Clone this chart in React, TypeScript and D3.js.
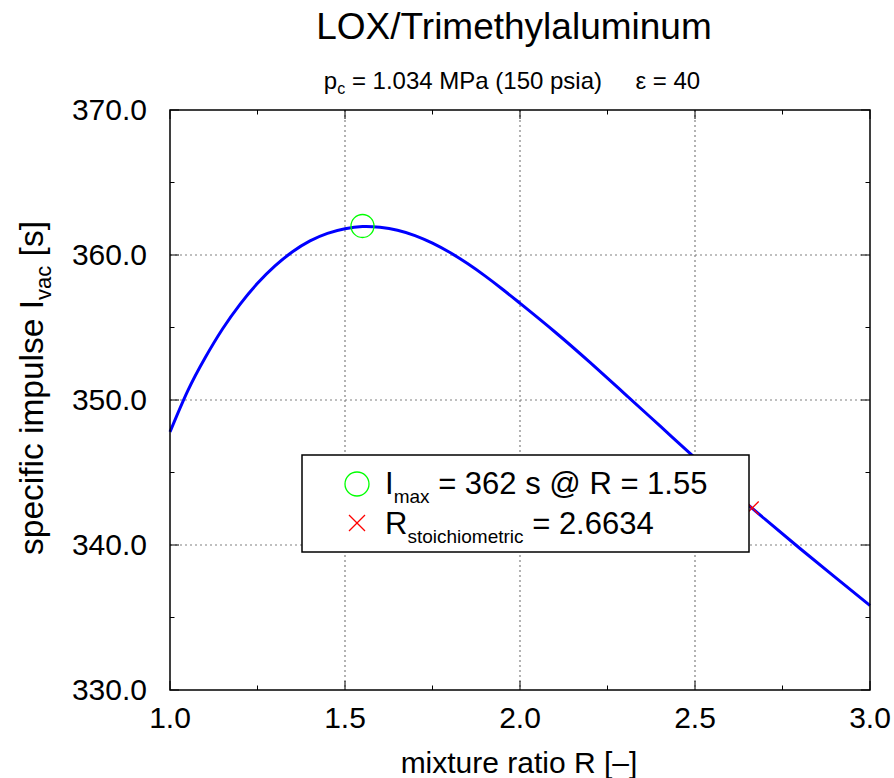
import React from "react";
import * as d3 from "d3";

const ratioR = [1.0, 1.05, 1.1, 1.15, 1.2, 1.25, 1.3, 1.35, 1.4, 1.45, 1.5, 1.55, 1.6, 1.65, 1.7, 1.75, 1.8, 1.85, 1.9, 1.95, 2.0, 2.1, 2.2, 2.3, 2.4, 2.5, 2.6, 2.7, 2.8, 2.9, 3.0];
const ispVac = [347.8, 350.6, 352.9, 354.9, 356.6, 358.05, 359.25, 360.22, 360.97, 361.49, 361.81, 361.96, 361.91, 361.71, 361.34, 360.82, 360.17, 359.41, 358.56, 357.64, 356.67, 354.69, 352.59, 350.41, 348.21, 346.01, 343.86, 341.78, 339.76, 337.78, 335.83];
const xTicks = [1.0, 1.5, 2.0, 2.5, 3.0];
const xMinor = [1.25, 1.75, 2.25, 2.75];
const yTicks = [330, 340, 350, 360, 370];
const yMinor = [335, 345, 355, 365];
const maxPoint = { r: 1.55, isp: 362 };
const stoich = { r: 2.6634, isp: 342.55 };

const FONT = "'Liberation Sans', Arial, Helvetica, sans-serif";

export default function App() {
  const W = 894, H = 778;
  const left = 170, right = 870, top = 110, bottom = 690;
  const x = d3.scaleLinear().domain([1, 3]).range([left, right]);
  const y = d3.scaleLinear().domain([330, 370]).range([bottom, top]);
  const line = d3.line<number>().x((_, i) => x(ratioR[i])).y((d) => y(d)).curve(d3.curveNatural);
  const pathD = line(ispVac) || "";
  const grid = "#808080";
  const cx = x(stoich.r), cy = y(stoich.isp);
  const xs = 6.5;
  const lgX = 357, lg1 = 484, lg2 = 523;
  return (
    <svg width={W} height={H} style={{ position: "absolute", left: 0, top: 0, background: "#fff" }} fontFamily={FONT}>
      <rect x={0} y={0} width={W} height={H} fill="#fff" />
      <text x={514} y={39} fontSize={37} textAnchor="middle">LOX/Trimethylaluminum</text>
      <text x={512} y={89} fontSize={24} textAnchor="middle" style={{ whiteSpace: "pre" }} xmlSpace="preserve">
        p<tspan fontSize={16} dy={5}>c</tspan><tspan dy={-5}>{" = 1.034 MPa (150 psia)     \u03b5 = 40"}</tspan>
      </text>
      {/* grid */}
      {xTicks.slice(1, -1).map((t) => (
        <line key={"gx" + t} x1={x(t)} x2={x(t)} y1={top} y2={bottom} stroke={grid} strokeWidth={1.2} strokeDasharray="2,3" />
      ))}
      {yTicks.slice(1, -1).map((t) => (
        <line key={"gy" + t} x1={left} x2={right} y1={y(t)} y2={y(t)} stroke={grid} strokeWidth={1.2} strokeDasharray="2,3" />
      ))}
      {/* ticks */}
      {xTicks.map((t) => (
        <g key={"tx" + t}>
          <line x1={x(t)} x2={x(t)} y1={bottom} y2={bottom - 9} stroke="#000" strokeWidth={1} />
          <line x1={x(t)} x2={x(t)} y1={top} y2={top + 9} stroke="#000" strokeWidth={1} />
        </g>
      ))}
      {xMinor.map((t) => (
        <g key={"mx" + t}>
          <line x1={x(t)} x2={x(t)} y1={bottom} y2={bottom - 4.5} stroke="#000" strokeWidth={1} />
          <line x1={x(t)} x2={x(t)} y1={top} y2={top + 4.5} stroke="#000" strokeWidth={1} />
        </g>
      ))}
      {yTicks.map((t) => (
        <g key={"ty" + t}>
          <line x1={left} x2={left + 9} y1={y(t)} y2={y(t)} stroke="#000" strokeWidth={1} />
          <line x1={right} x2={right - 9} y1={y(t)} y2={y(t)} stroke="#000" strokeWidth={1} />
        </g>
      ))}
      {yMinor.map((t) => (
        <g key={"my" + t}>
          <line x1={left} x2={left + 4.5} y1={y(t)} y2={y(t)} stroke="#000" strokeWidth={1} />
          <line x1={right} x2={right - 4.5} y1={y(t)} y2={y(t)} stroke="#000" strokeWidth={1} />
        </g>
      ))}
      {/* curve */}
      <path d={pathD} fill="none" stroke="#0000ff" strokeWidth={3} />
      <circle cx={x(maxPoint.r)} cy={y(maxPoint.isp)} r={11.5} fill="none" stroke="#00ff00" strokeWidth={1.3} />
      <line x1={cx - xs} x2={cx + xs} y1={cy - xs} y2={cy + xs} stroke="#ff0000" strokeWidth={1.3} />
      <line x1={cx - xs} x2={cx + xs} y1={cy + xs} y2={cy - xs} stroke="#ff0000" strokeWidth={1.3} />
      {/* border */}
      <rect x={left} y={top} width={right - left} height={bottom - top} fill="none" stroke="#000" strokeWidth={1.5} />
      {/* tick labels */}
      {xTicks.map((t) => (
        <text key={"lx" + t} x={x(t)} y={728} fontSize={30} textAnchor="middle">{t.toFixed(1)}</text>
      ))}
      {yTicks.map((t) => (
        <text key={"ly" + t} x={147} y={y(t) + 10} fontSize={30} textAnchor="end">{t.toFixed(1)}</text>
      ))}
      <text x={519} y={773} fontSize={30} textAnchor="middle">mixture ratio R [&#8211;]</text>
      <text transform="translate(43,388) rotate(-90)" fontSize={33.5} textAnchor="middle">
        specific impulse I<tspan fontSize={22} dy={8}>vac</tspan><tspan dy={-8}> [s]</tspan>
      </text>
      {/* legend */}
      <rect x={302} y={455} width={447} height={97} fill="#fff" stroke="#000" strokeWidth={1.5} />
      <circle cx={lgX} cy={lg1} r={12} fill="none" stroke="#00ff00" strokeWidth={1.3} />
      <line x1={lgX - 8} x2={lgX + 8} y1={lg2 - 8} y2={lg2 + 8} stroke="#ff0000" strokeWidth={1.3} />
      <line x1={lgX - 8} x2={lgX + 8} y1={lg2 + 8} y2={lg2 - 8} stroke="#ff0000" strokeWidth={1.3} />
      <text x={385} y={494} fontSize={31}>
        I<tspan fontSize={19} dy={9}>max</tspan><tspan dy={-9}> = 362 s @ R = 1.55</tspan>
      </text>
      <text x={385} y={534} fontSize={31}>
        R<tspan fontSize={19} dy={9}>stoichiometric</tspan><tspan dy={-9}> = 2.6634</tspan>
      </text>
    </svg>
  );
}
